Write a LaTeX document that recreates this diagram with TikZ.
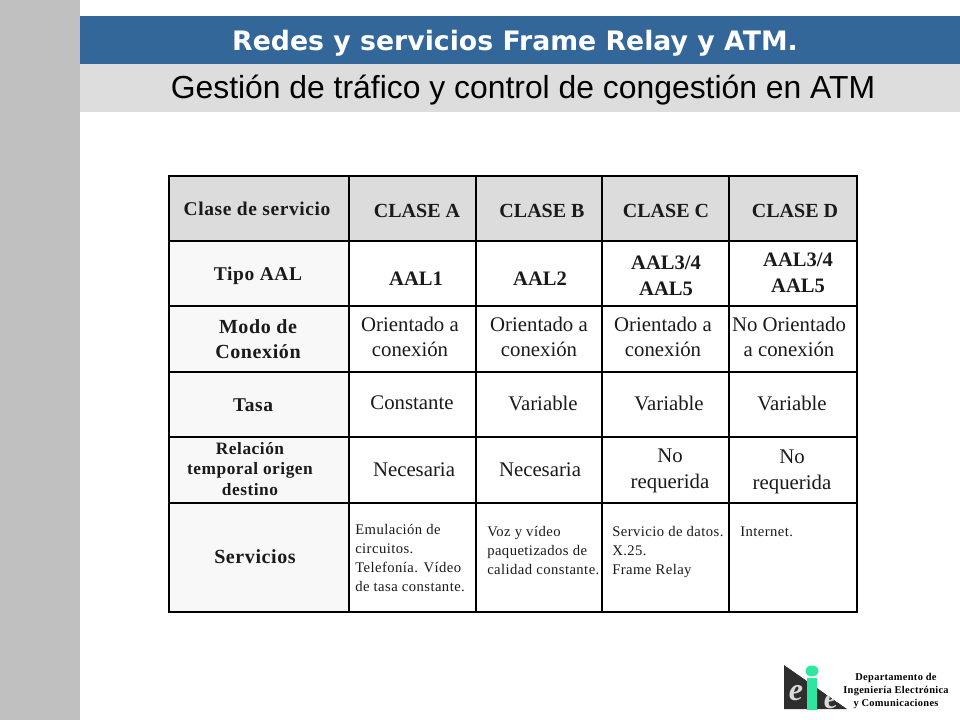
\documentclass[tikz,border=0pt]{standalone}
\usepackage{fontspec}
\setmainfont{Liberation Serif}
\newfontfamily\wide{Liberation Serif}[LetterSpace=3]
\newfontfamily\arialf{Liberation Sans}
\newfontfamily\verdf{DejaVu Sans}
\definecolor{bandblue}{HTML}{336699}
\definecolor{bandgray}{HTML}{DDDDDD}
\definecolor{sidegray}{HTML}{C0C0C0}
\definecolor{rowhead}{HTML}{F8F8F8}
\definecolor{headgray}{HTML}{DCDCDC}
\definecolor{logodark}{HTML}{2E2E2E}
\definecolor{logogreen}{HTML}{2EE6A0}
\definecolor{inkc}{HTML}{1A1A1A}
\newcommand{\fs}[1]{\fontsize{#1}{#1}\selectfont}
\tikzset{
  x=0.75pt,y=-0.75pt,
  band/.style={draw=none,inner sep=0pt},
  rowlabel/.style={font=\fs{14.6}\wide\bfseries,align=center,text=inkc,inner sep=0pt},
  rowsmall/.style={font=\fs{13}\wide\bfseries,align=center,text=inkc,inner sep=0pt},
  classlabel/.style={font=\fs{15}\bfseries,align=center,text=inkc,inner sep=0pt},
  aallabel/.style={font=\fs{15.4}\bfseries,align=center,text=inkc,inner sep=0pt},
  cell/.style={font=\fs{15.6},align=center,text=inkc,inner sep=0pt},
  svc/.style={font=\fs{11}\wide,align=left,anchor=north west,text=inkc,inner sep=0pt},
  grid/.style={line width=1.5pt,black},
  dept/.style={font=\fs{7.8}\wide\bfseries,align=center,inner sep=0pt}
}
\begin{document}
\begin{tikzpicture}
\useasboundingbox (0,0) rectangle (960,720);
\fill[white] (0,0) rectangle (960,720);
\fill[sidegray] (0,0) rectangle (80,720);
\fill[bandblue] (80,16) rectangle (960,64);
\fill[bandgray] (80,64) rectangle (960,112);
\node[band,font=\fs{20.05}\verdf\bfseries,text=white] (title) at (515,43) {Redes y servicios Frame Relay y ATM.};
\node[band,font=\fs{23.9}\arialf] (subtitle) at (523,90) {Gestión de tráfico y control de congestión en ATM};
% table backgrounds
\fill[headgray] (169,176) rectangle (857,241);
\fill[rowhead] (169,241) rectangle (349,612);
% grid
\draw[grid] (169,176) rectangle (857,612);
\foreach \yy in {241,306,372,437,503} \draw[grid] (169,\yy) -- (857,\yy);
\foreach \xx in {349,476,602,729} \draw[grid] (\xx,176) -- (\xx,612);
% row labels
\node[rowlabel] (r1) at (257,209) {Clase de servicio};
\node[rowlabel] (r2) at (258,276) {Tipo AAL};
\node[rowlabel,font=\fs{15}\wide\bfseries] (r3) at (258,339) {Modo de\\[4pt]Conexión};
\node[rowlabel] (r4) at (253,405) {Tasa};
\node[rowsmall] (r5) at (250,469) {Relación\\[2.2pt]temporal origen\\[2.2pt]destino};
\node[rowlabel,font=\fs{15}\wide\bfseries] (r6) at (255,557) {Servicios};
% class headers
\node[classlabel] (ca) at (417,211) {CLASE A};
\node[classlabel] (cb) at (542,211) {CLASE B};
\node[classlabel] (cc) at (666,211) {CLASE C};
\node[classlabel] (cd) at (795,211) {CLASE D};
% AAL
\node[aallabel] (aa) at (416,279) {AAL1};
\node[aallabel] (ab) at (540,279) {AAL2};
\node[aallabel] (ac) at (666,276) {AAL3/4\\[4pt]AAL5};
\node[aallabel] (ad) at (798,273) {AAL3/4\\[4pt]AAL5};
% conexion
\node[cell] (ma) at (410,337) {Orientado a\\[3pt]conexión};
\node[cell] (mb) at (539,337) {Orientado a\\[3pt]conexión};
\node[cell] (mc) at (663,337) {Orientado a\\[3pt]conexión};
\node[cell] (md) at (789,337) {No Orientado\\[3pt]a conexión};
% tasa
\node[cell] (ta) at (412,403) {Constante};
\node[cell] (tb) at (543,403) {Variable};
\node[cell] (tc) at (669,403) {Variable};
\node[cell] (td) at (792,403) {Variable};
% relacion
\node[cell] (ra) at (414,470) {Necesaria};
\node[cell] (rb) at (540,470) {Necesaria};
\node[cell] (rc) at (670,471) {No\\[4pt]requerida};
\node[cell] (rd) at (792,472) {No\\[4pt]requerida};
% servicios
\node[svc] (sa) at (355,524) {Emulación de\\[3.2pt]circuitos.\\[3.2pt]Telefonía. Vídeo\\[3.2pt]de tasa constante.};
\node[svc] (sb) at (487,526) {Voz y vídeo\\[3.2pt]paquetizados de\\[3.2pt]calidad constante.};
\node[svc] (sc) at (612,526) {Servicio de datos.\\[3.2pt]X.25.\\[3.2pt]Frame Relay};
\node[svc] (sd) at (740,527) {Internet.};
% logo
\begin{scope}
\clip (784,665) -- (784,709) -- (847,709) -- cycle;
\fill[logodark] (784,665) -- (784,709) -- (847,709) -- cycle;
\node[font=\fs{24}\bfseries\itshape,text=black!15,inner sep=0pt] (le2) at (831,701) {e};
\end{scope}
\node[font=\fs{24}\bfseries\itshape,text=black!15,inner sep=0pt] (le) at (796,693) {e};
\fill[logogreen] (807,678) rectangle (817,710);
\fill[logogreen] (812,671) ellipse (6.5 and 5.5);
\node[dept] (dept) at (896,691) {Departamento de\\[2.2pt]Ingeniería Electrónica\\[2.2pt]y Comunicaciones};
\end{tikzpicture}
\end{document}
